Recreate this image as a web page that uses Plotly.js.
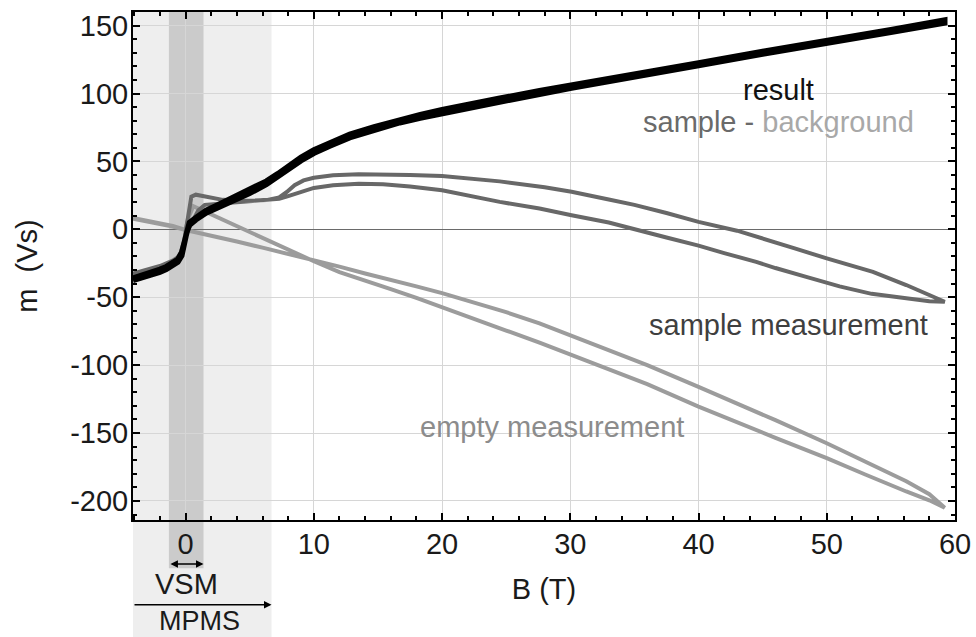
<!DOCTYPE html>
<html>
<head>
<meta charset="utf-8">
<script src="https://cdn.plot.ly/plotly-3.0.1.min.js"></script>
<style>html,body{margin:0;padding:0;background:#fff;}#chart{width:976px;height:637px;}</style>
</head>
<body>
<div id="chart"></div>
<script>
// ---- data (B in T, m in Vs) ----
const resultUpB = [-4.1,-3,-2,-1.5,-1,-0.6,-0.3,-0.1,0.1,0.3,0.8,1.6,2.5,3.7,5,6.3,7.2,8.1,9,10,11.3,12.8,14.7,16.7,18.3,20,22,24.5,27.6,30.1,35,40,45,50,55,59.2];
const resultUpM = [-36,-33,-29.5,-27.5,-25,-22,-17,-9,0,5,8.5,14,18,23.5,29,35.5,41,47.5,53,58.5,64,70,75.5,81,84.5,88,92,96.5,102,106,114.5,122.5,131,139.5,147,154];
const resultDownB = [59.2,55,50,45,40,35,30.1,27.6,24.5,22,20,18.3,16.7,14.7,12.8,11.3,10,9,8.1,7.2,6.3,5,3.7,2.5,1.6,0.8,0.3,0.1,-0.1,-0.3,-0.6,-1,-1.5,-2,-3,-4.1];
const resultDownM = [152,145,137.5,129,120.5,112.5,104,99.5,94,89.5,85.5,82,78.5,73,67.5,61.5,56,50.5,45,38.5,33,26.5,21,16,12,7,3,-2,-12,-19.5,-24,-27,-29.5,-31.5,-34.5,-37.5];

const sampleUpB = [-4.1,-3,-2,-1.5,-1,-0.6,-0.3,-0.1,0.1,0.3,0.45,0.8,1.5,2.9,4.5,6.3,7.3,7.9,8.5,9.2,10,11.5,13.5,15.4,17.5,20,22,24.5,28,30.1,33,35,37.5,40,43,45,47.5,50,51,53.6,56.2,58,59.2];
const sampleUpM = [-32.5,-30,-27,-25,-23,-20.5,-16,-8,5,18,24,25.5,24,21.7,21,21.5,23.5,27.5,32.5,36,38,39.8,40.5,40.6,40,39.3,37.8,35.3,31,27.6,22,18,12,5.5,-1,-6.5,-14,-21.4,-24,-31.3,-41,-48.5,-53.3];
const sampleDownB = [59.2,58,56.2,53.5,51,50,48.4,46,44.5,42,40,37.5,35.2,33,30.1,27.6,24.5,22,20,17.5,15.4,13.5,11.5,10,8.9,8,7.3,6,4.5,3,1.5,1,0.5,0.2,0,-0.2,-0.5,-1,-1.5,-2,-3,-4.1];
const sampleDownM = [-53.3,-53,-51,-47.5,-42,-39.5,-35,-28.5,-24,-17.5,-12,-6,0,5,10.4,15.3,20.2,25,28.8,31.5,33.2,33.5,32.5,30.5,27.6,24.5,22.5,21.5,20.5,19.5,18,14,6,0,-5,-12,-21,-25,-27,-28.5,-31.5,-34];

const emptyUpB = [-4.1,-3,-2,-1,0,2,4,6,8,10,12,14,16,18,20,22,25,27.6,30,33,36,40,43,46,50,53,56.2,58,59.2];
const emptyUpM = [7.9,6,4,2,-0.5,-4.5,-9,-13.5,-18,-23,-27.5,-32.5,-37,-42,-47,-52.5,-61,-69.3,-78,-88.5,-100,-116,-128,-140.5,-157.5,-171,-185.5,-195,-205];
const emptyDownB = [59.2,58,56.2,53,50,46,43,40,36,33,30,27.6,25,22,20,18,16,14,12,10,8,6,4,3,2,1,0.6,0.2,0,-1,-2,-3,-4.1];
const emptyDownM = [-205,-199.5,-193,-180.5,-168.5,-153.5,-142,-130.5,-114,-103,-92,-83.5,-74.5,-64,-57,-50.5,-44,-37.5,-31.5,-23.5,-15,-6.5,2.5,6.5,10.5,15,17,8,-0.5,2.5,4.5,6.5,8.3];

const xTickVals = [0,10,20,30,40,50,60];
const xTickText = ['0','10','20','30','40','50','60'];
const yTickVals = [-200,-150,-100,-50,0,50,100,150];
const yTickText = ['-200','-150','-100','-50','0','50','100','150'];

// field ranges of the two instruments (T)
const mpmsRange = [-4.1, 6.7];
const vsmRange = [-1.3, 1.4];

// ---- chart ----
const FONT = 'Liberation Sans, Arial, sans-serif';
const FS = 29;

const traces = [
  {x: emptyUpB.concat(emptyDownB), y: emptyUpM.concat(emptyDownM), mode: 'lines',
   line: {color: '#9c9c9c', width: 4}, name: 'empty measurement', hoverinfo: 'skip'},
  {x: sampleUpB.concat(sampleDownB), y: sampleUpM.concat(sampleDownM), mode: 'lines',
   line: {color: '#686868', width: 4}, name: 'sample measurement', hoverinfo: 'skip'},
  {x: resultUpB.concat(resultDownB), y: resultUpM.concat(resultDownM), mode: 'lines',
   line: {color: '#000000', width: 5.5}, name: 'result', hoverinfo: 'skip'}
];

const axisCommon = {
  showline: true, linecolor: '#000', linewidth: 2, mirror: 'ticks',
  ticks: 'inside', ticklen: 7, tickwidth: 2, tickcolor: '#000',
  showgrid: true, gridcolor: '#d6d6d6', gridwidth: 1,
  tickfont: {family: FONT, size: FS, color: '#1a1a1a'},
  tickmode: 'array'
};

const layout = {
  width: 976, height: 637,
  margin: {l: 133, r: 21, t: 12, b: 117},
  paper_bgcolor: '#ffffff', plot_bgcolor: 'rgba(0,0,0,0)',
  showlegend: false,
  font: {family: FONT, size: FS, color: '#1a1a1a'},
  xaxis: Object.assign({}, axisCommon, {
    range: [-4.1, 60], tickvals: xTickVals, ticktext: xTickText, zeroline: false,
    ticklabelstandoff: -3,
    minor: {dtick: 2, tick0: 0, ticks: 'inside', ticklen: 4, tickwidth: 2, tickcolor: '#000', showgrid: false},
    title: {text: 'B (T)', font: {family: FONT, size: FS, color: '#1a1a1a'}, standoff: 20}
  }),
  yaxis: Object.assign({}, axisCommon, {
    range: [-214, 160], tickvals: yTickVals, ticktext: yTickText,
    ticklabelstandoff: -3,
    zeroline: true, zerolinecolor: '#6a6a6a', zerolinewidth: 1.5,
    minor: {dtick: 10, tick0: 0, ticks: 'inside', ticklen: 4, tickwidth: 2, tickcolor: '#000', showgrid: false},
    title: {text: 'm  (Vs)', font: {family: FONT, size: FS, color: '#1a1a1a'}, standoff: 24}
  }),
  shapes: [
    {type: 'rect', layer: 'below', xref: 'x', yref: 'paper', x0: mpmsRange[0], x1: mpmsRange[1], y0: -0.235, y1: 1,
     fillcolor: '#eeeeee', line: {width: 0}},
    {type: 'rect', layer: 'below', xref: 'x', yref: 'paper', x0: vsmRange[0], x1: vsmRange[1], y0: -0.095, y1: 1,
     fillcolor: '#cbcbcb', line: {width: 0}}
  ],
  annotations: [
    {xref: 'x', yref: 'y', x: 46.2, y: 102.4, text: 'result', showarrow: false,
     font: {family: FONT, size: FS, color: '#111111'}},
    {xref: 'x', yref: 'y', x: 46.2, y: 79, showarrow: false,
     text: '<span style="color:#6a6a6a">sample -</span> <span style="color:#a8a8a8">background</span>',
     font: {family: FONT, size: FS, color: '#6a6a6a'}},
    {xref: 'x', yref: 'y', x: 47, y: -70.4, text: 'sample measurement', showarrow: false,
     font: {family: FONT, size: FS, color: '#3f3f3f'}},
    {xref: 'x', yref: 'y', x: 28.55, y: -145.2, text: 'empty measurement', showarrow: false,
     font: {family: FONT, size: FS, color: '#8c8c8c'}},
    // VSM double arrow + label
    {xref: 'x', yref: 'paper', x: vsmRange[1], y: -0.0866, axref: 'x', ayref: 'pixel', ax: vsmRange[0], ay: 0,
     text: '', showarrow: true, arrowhead: 2, startarrowhead: 2, arrowside: 'end+start', arrowsize: 1, arrowwidth: 1.5, arrowcolor: '#000'},
    {xref: 'x', yref: 'paper', x: 0.1, y: -0.126, text: 'VSM', showarrow: false, yanchor: 'middle',
     font: {family: FONT, size: FS, color: '#1a1a1a'}},
    // MPMS arrow + label
    {xref: 'x', yref: 'paper', x: mpmsRange[1], y: -0.167, axref: 'x', ayref: 'pixel', ax: mpmsRange[0], ay: 0,
     text: '', showarrow: true, arrowhead: 2, arrowsize: 1, arrowwidth: 1.5, arrowcolor: '#000'},
    {xref: 'x', yref: 'paper', x: 1.1, y: -0.198, text: 'MPMS', showarrow: false, yanchor: 'middle',
     font: {family: FONT, size: 27, color: '#1a1a1a'}}
  ]
};

Plotly.newPlot('chart', traces, layout, {staticPlot: true, displayModeBar: false});
</script>
</body>
</html>
